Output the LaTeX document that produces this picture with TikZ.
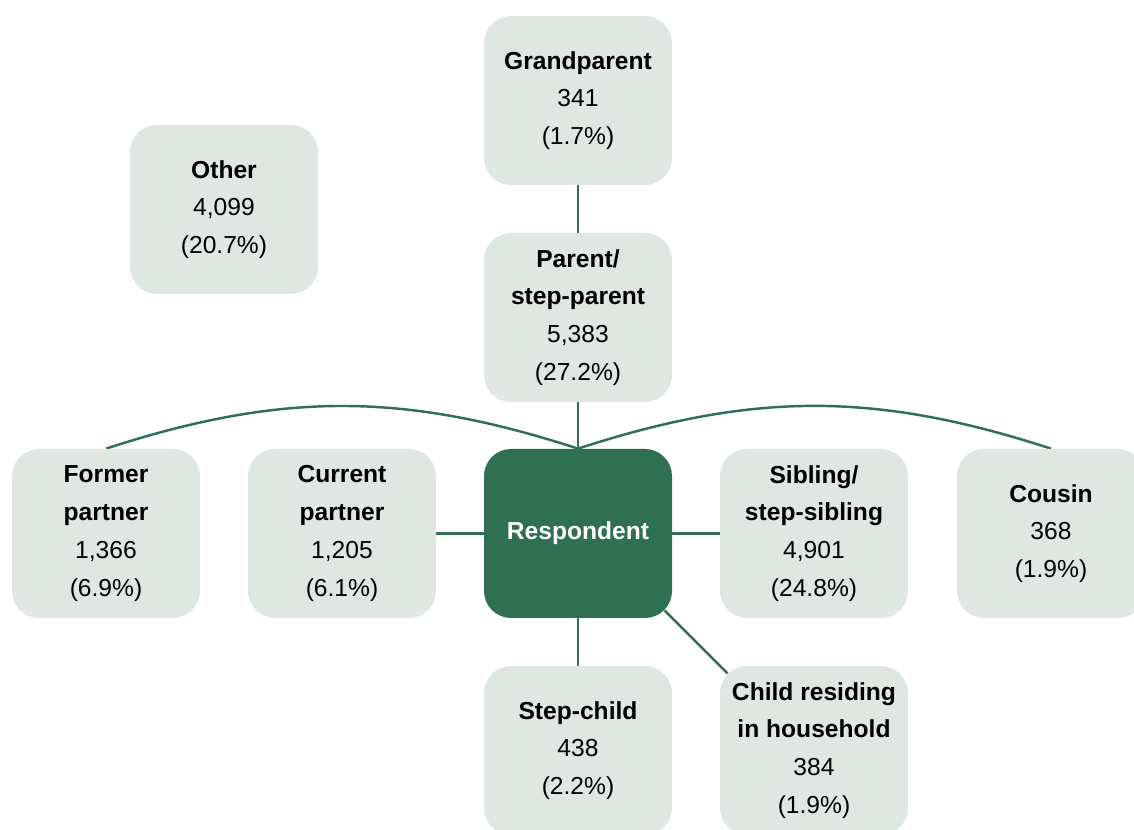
\documentclass[tikz,border=0pt]{standalone}
\usepackage{fontspec}
\setmainfont{Liberation Sans}
\usepackage{xcolor}
\usepackage{tikz}
\usetikzlibrary{backgrounds}
\definecolor{linkgreen}{HTML}{2E7050}
\definecolor{boxgrey}{HTML}{E0E6E2}

\begin{document}
\begin{tikzpicture}[x=1cm,y=1cm,font=\fontsize{14}{21.5}\selectfont,
  relbox/.style={fill=boxgrey,rounded corners=0.54cm,minimum width=3.76cm,
    minimum height=3.38cm,inner sep=0pt,align=center},
  centrebox/.style={relbox,fill=linkgreen,text=white},
  link/.style={draw=linkgreen,line width=1.4pt}]
  \clip (0,0) rectangle (22.68,16.6);
  \node[relbox] (grand) at (11.56,14.59) {\textbf{Grandparent}\\341\\(1.7\%)};
  \node[relbox] (other) at (4.48,12.41) {\textbf{Other}\\4,099\\(20.7\%)};
  \node[relbox] (parent) at (11.56,10.25) {\textbf{Parent/}\\\textbf{step-parent}\\5,383\\(27.2\%)};
  \node[relbox] (former) at (2.12,5.93) {\textbf{Former}\\\textbf{partner}\\1,366\\(6.9\%)};
  \node[relbox] (current) at (6.84,5.93) {\textbf{Current}\\\textbf{partner}\\1,205\\(6.1\%)};
  \node[centrebox] (resp) at (11.56,5.93) {\textbf{Respondent}};
  \node[relbox] (sibling) at (16.28,5.93) {\textbf{Sibling/}\\\textbf{step-sibling}\\4,901\\(24.8\%)};
  \node[relbox] (cousin) at (21.02,5.93) {\textbf{Cousin}\\368\\(1.9\%)};
  \node[relbox] (stepchild) at (11.56,1.59) {\textbf{Step-child}\\438\\(2.2\%)};
  \node[relbox] (childres) at (16.28,1.59) {\textbf{Child residing}\\\textbf{in household}\\384\\(1.9\%)};
  % connectors behind the boxes
  \begin{scope}[on background layer]
    \draw[link] (grand) -- (parent);
    \draw[link] (parent) -- (resp);
    \draw[link] (current) -- (resp);
    \draw[link] (resp) -- (sibling);
    \draw[link] (resp) -- (stepchild);
    \draw[link,shorten <=-0.22cm,shorten >=-0.22cm] (resp.south east) -- (childres.north west);
    \draw[link] (former.north) to[bend left=18] (resp.north);
    \draw[link] (resp.north) to[bend left=18] (cousin.north);
  \end{scope}
\end{tikzpicture}
\end{document}
